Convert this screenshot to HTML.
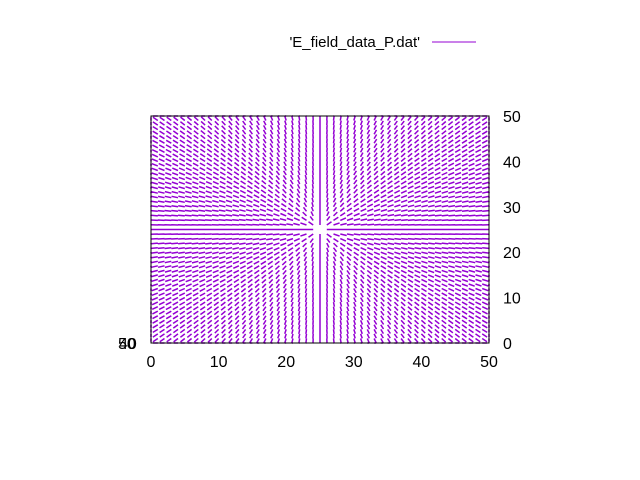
<!DOCTYPE html>
<html><head><meta charset="utf-8"><style>
body{margin:0;background:#fff;}
svg{display:block;font-family:"Liberation Sans",sans-serif;}
</style></head><body>
<svg id="c" width="640" height="480">
<g id="plot"></g>
<rect x="151" y="116" width="338" height="227" fill="none" stroke="#000" stroke-width="1"/>
<g id="axes" font-size="16" fill="#000"></g>
<g>
<text x="420" y="47" text-anchor="end" font-size="15">'E_field_data_P.dat'</text>
<line x1="432" y1="42" x2="476" y2="42" stroke="#9400d3" stroke-width="1"/>
</g>
<text x="118" y="349" font-size="16">50</text>
<text x="119" y="349" font-size="16">40</text>
</svg>
<script>
const xTicks=[0,10,20,30,40,50];
const yTicks=[0,10,20,30,40,50];
const gridX=[];for(let i=0;i<=50;i++)gridX.push(i);
const gridY=[];for(let i=0;i<=50;i++)gridY.push(i);
const charge=[25,25];
const NS="http://www.w3.org/2000/svg";
const X=v=>151+v/50*338, Y=v=>343-v/50*227;
const clamp=v=>Math.min(50,Math.max(0,v));
const plot=document.getElementById('plot'), axes=document.getElementById('axes');
let d="";
gridY.forEach(y=>{
  gridX.forEach(x=>{
    const dx=x-charge[0], dy=y-charge[1], r=Math.hypot(dx,dy);
    if(r===0)return;
    const ux=dx/r*1.0, uy=dy/r*1.0;
    d+=`M${X(x).toFixed(1)},${Y(y).toFixed(1)}L${X(clamp(x+ux)).toFixed(1)},${Y(clamp(y+uy)).toFixed(1)}`;
  });
});
const p=document.createElementNS(NS,'path');
p.setAttribute('d',d);p.setAttribute('stroke','#9400d3');p.setAttribute('stroke-width','1.5');p.setAttribute('fill','none');


plot.appendChild(p);
xTicks.forEach(t=>{
  const tx=document.createElementNS(NS,'text');
  tx.setAttribute('x',X(t));tx.setAttribute('y',367);tx.setAttribute('text-anchor','middle');tx.textContent=t;
  
  
  axes.appendChild(tx);
});
yTicks.forEach(t=>{
  const tx=document.createElementNS(NS,'text');
  tx.setAttribute('x',503);tx.setAttribute('y',Y(t)+6);tx.textContent=t;
  
  
  axes.appendChild(tx);
});
</script>
</body></html>
